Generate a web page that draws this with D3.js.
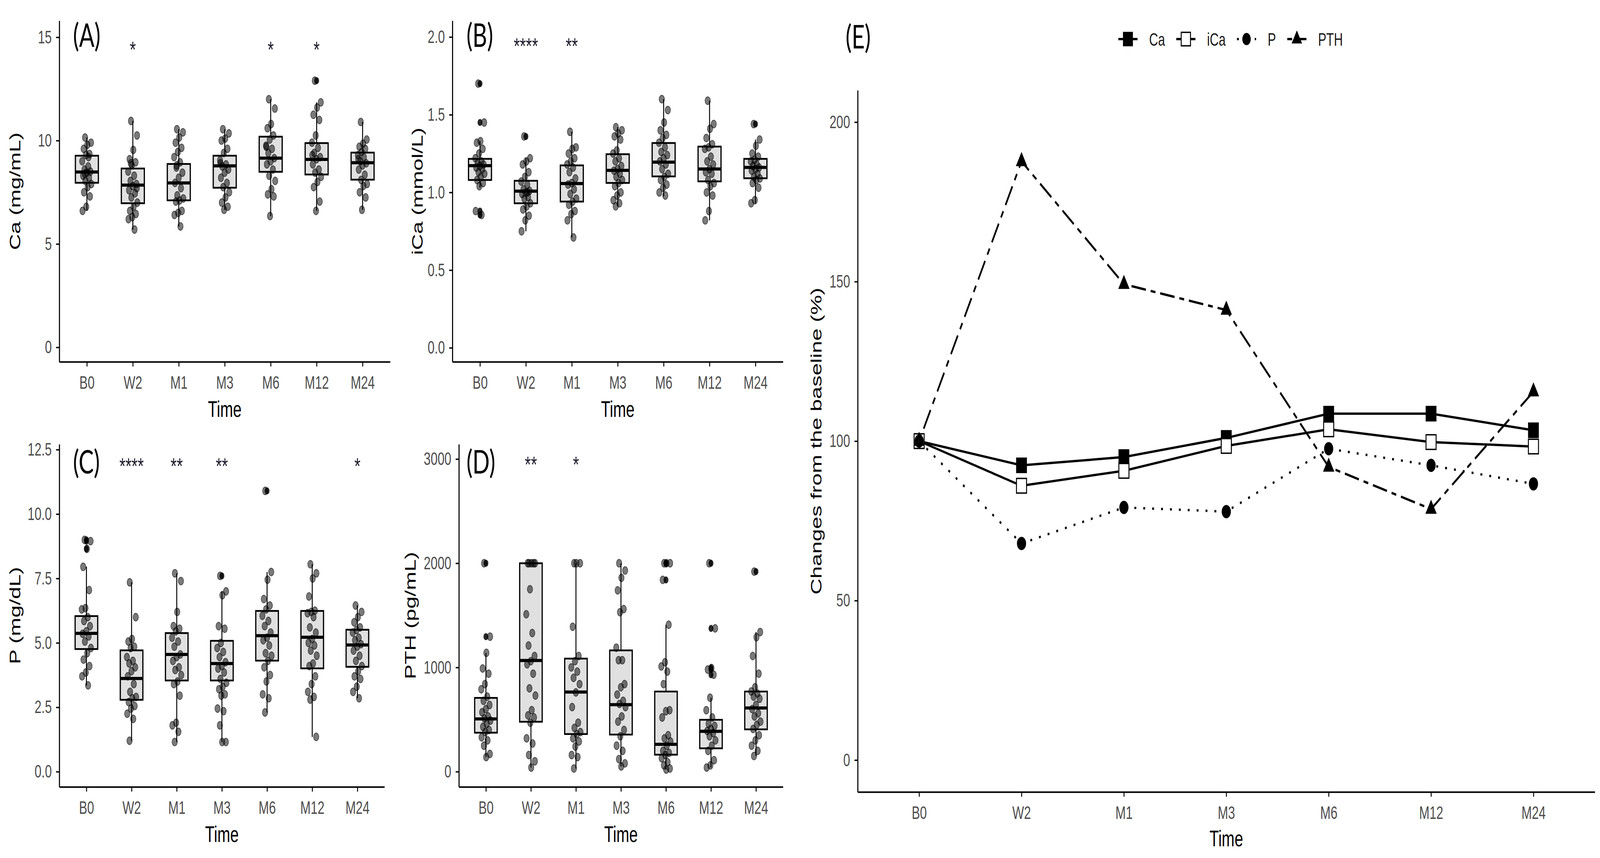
<!DOCTYPE html>
<html><head><meta charset="utf-8">
<script src="https://cdn.jsdelivr.net/npm/d3@7"></script>
<style>html,body{margin:0;padding:0;background:#fff;overflow:hidden} svg{display:block;width:100vw;height:100vh}</style>
</head><body>
<svg id="chart" viewBox="0 0 5934 2196" preserveAspectRatio="none"></svg>
<script>
// ---------------- DATA ----------------
const timePoints = ["B0", "W2", "M1", "M3", "M6", "M12", "M24"];

// Panel A: Ca (mg/mL)
const caPoints = [
  [10.15, 9.9, 9.8, 9.6, 9.35, 9.3, 9.0, 8.75, 8.6, 8.5, 8.45, 8.3, 8.2, 8.05, 7.9, 7.75, 7.5, 7.3, 6.8, 6.6, 9.2, 8.4],
  [10.95, 10.25, 9.55, 9.1, 8.95, 8.8, 8.5, 8.3, 8.05, 7.9, 7.8, 7.6, 7.45, 7.25, 7.0, 6.8, 6.6, 6.45, 6.3, 6.2, 5.7, 8.9, 7.7],
  [10.55, 10.4, 10.15, 9.9, 9.65, 9.45, 9.2, 8.95, 8.7, 8.45, 8.2, 7.95, 7.7, 7.35, 7.2, 7.1, 7.05, 6.6, 6.5, 6.4, 5.85, 8.8],
  [10.55, 10.35, 10.1, 10.0, 9.6, 9.4, 9.05, 8.85, 8.75, 8.6, 8.45, 8.2, 7.95, 7.75, 7.5, 7.25, 7.0, 6.8, 6.65, 8.9],
  [12.0, 11.55, 10.8, 10.6, 10.25, 10.05, 9.75, 9.6, 9.4, 9.15, 9.0, 8.85, 8.6, 8.3, 8.05, 7.65, 7.4, 7.3, 6.35, 9.7],
  [12.9, 11.85, 11.6, 11.25, 11.0, 10.25, 9.9, 9.65, 9.4, 9.2, 9.1, 8.85, 8.6, 8.45, 8.25, 8.0, 7.75, 7.05, 6.6, 9.3],
  [10.9, 10.05, 9.85, 9.7, 9.6, 9.45, 9.3, 9.2, 9.0, 8.9, 8.8, 8.6, 8.35, 8.1, 7.9, 7.8, 7.5, 7.25, 6.65, 9.1]
];
// [lower whisker, Q1, median, Q3, upper whisker]
const caBoxes = [
  [6.6, 7.96, 8.48, 9.27, 10.15],
  [5.7, 6.97, 7.85, 8.65, 10.95],
  [5.85, 7.11, 7.95, 8.87, 10.55],
  [6.65, 7.72, 8.78, 9.27, 10.55],
  [6.35, 8.49, 9.15, 10.19, 12.0],
  [6.6, 8.36, 9.09, 9.88, 11.85],
  [6.65, 8.11, 8.93, 9.42, 10.9]
];
const caStars = ["", "*", "", "", "*", "*", ""];
const caTicks = [0, 5, 10, 15];

// Panel B: iCa (mmol/L)
const icaPoints = [
  [1.70, 1.45, 1.33, 1.32, 1.28, 1.25, 1.22, 1.2, 1.19, 1.18, 1.17, 1.16, 1.15, 1.13, 1.12, 1.10, 1.08, 1.06, 1.04, 0.88, 0.855],
  [1.36, 1.22, 1.2, 1.18, 1.13, 1.1, 1.07, 1.05, 1.02, 1.01, 1.0, 0.99, 0.97, 0.96, 0.93, 0.91, 0.89, 0.85, 0.82, 0.75, 1.0],
  [1.39, 1.29, 1.28, 1.25, 1.22, 1.2, 1.18, 1.16, 1.13, 1.09, 1.06, 1.05, 1.02, 0.99, 0.96, 0.94, 0.92, 0.88, 0.86, 0.82, 0.71],
  [1.42, 1.40, 1.38, 1.36, 1.34, 1.27, 1.25, 1.22, 1.2, 1.17, 1.15, 1.14, 1.12, 1.1, 1.08, 1.06, 1.04, 1.0, 0.98, 0.95, 0.93, 0.91],
  [1.6, 1.53, 1.45, 1.4, 1.37, 1.35, 1.32, 1.29, 1.26, 1.24, 1.22, 1.2, 1.18, 1.15, 1.12, 1.1, 1.08, 1.05, 1.03, 1.0, 0.98],
  [1.59, 1.44, 1.41, 1.35, 1.31, 1.29, 1.28, 1.23, 1.2, 1.18, 1.15, 1.13, 1.12, 1.08, 1.06, 1.04, 1.0, 0.98, 0.88, 0.82],
  [1.44, 1.34, 1.3, 1.25, 1.23, 1.21, 1.2, 1.18, 1.17, 1.16, 1.15, 1.14, 1.12, 1.1, 1.09, 1.08, 1.06, 1.03, 0.95, 0.93]
];
const icaBoxes = [
  [1.03, 1.08, 1.172, 1.216, 1.33],
  [0.75, 0.93, 1.008, 1.075, 1.22],
  [0.71, 0.941, 1.057, 1.174, 1.39],
  [0.91, 1.061, 1.142, 1.246, 1.42],
  [0.974, 1.103, 1.195, 1.318, 1.60],
  [0.82, 1.071, 1.151, 1.295, 1.59],
  [0.93, 1.091, 1.161, 1.216, 1.34]
];
const icaStars = ["", "****", "**", "", "", "", ""];
const icaTicks = [0, 0.5, 1.0, 1.5, 2.0];

// Panel C: P (mg/dL)
const pPoints = [
  [9.0, 8.95, 8.65, 7.95, 7.05, 6.35, 6.3, 6.0, 5.85, 5.65, 5.45, 5.35, 5.25, 5.05, 4.8, 4.6, 4.35, 4.1, 3.85, 3.7, 3.35],
  [7.35, 6.0, 5.15, 5.05, 4.85, 4.8, 4.45, 4.3, 4.2, 4.05, 3.9, 3.7, 3.4, 3.1, 2.9, 2.85, 2.7, 2.55, 2.45, 2.25, 2.05, 1.2],
  [7.7, 7.4, 6.2, 5.65, 5.55, 5.45, 5.2, 5.05, 4.85, 4.55, 4.45, 4.3, 4.05, 3.95, 3.75, 3.5, 3.4, 2.95, 1.9, 1.8, 1.55, 1.15],
  [7.6, 7.0, 6.85, 5.65, 5.55, 5.0, 4.8, 4.65, 4.45, 4.25, 4.1, 4.0, 3.85, 3.6, 3.45, 3.3, 3.2, 3.0, 2.95, 2.45, 2.35, 1.8, 1.15, 1.15],
  [10.9, 7.75, 7.45, 6.7, 6.45, 6.3, 6.05, 5.85, 5.65, 5.4, 5.2, 5.1, 4.9, 4.6, 4.5, 4.3, 4.05, 3.75, 3.5, 3.0, 2.85, 2.3],
  [8.05, 7.7, 7.5, 6.8, 6.25, 6.2, 6.15, 6.0, 5.6, 5.4, 5.15, 5.0, 4.9, 4.7, 4.5, 4.2, 4.1, 3.7, 3.4, 3.1, 2.9, 2.8, 1.35],
  [6.45, 6.2, 6.0, 5.8, 5.6, 5.5, 5.4, 5.2, 5.1, 4.95, 4.85, 4.7, 4.5, 4.3, 4.1, 3.9, 3.7, 3.6, 3.3, 3.1, 2.85]
];
const pBoxes = [
  [3.34, 4.76, 5.37, 6.04, 7.96],
  [1.2, 2.79, 3.62, 4.71, 7.35],
  [1.15, 3.54, 4.55, 5.38, 7.7],
  [1.15, 3.54, 4.2, 5.08, 7.0],
  [2.3, 4.31, 5.28, 6.24, 7.75],
  [1.35, 4.01, 5.22, 6.24, 8.05],
  [2.85, 4.07, 4.92, 5.51, 6.45]
];
const pStars = ["", "****", "**", "**", "", "", "*"];
const pTicks = [0, 2.5, 5.0, 7.5, 10.0, 12.5];

// Panel D: PTH (pg/mL)
const pthPoints = [
  [2000, 1296, 1140, 990, 940, 840, 790, 720, 680, 640, 600, 570, 530, 510, 490, 460, 430, 400, 380, 330, 300, 250, 170, 140],
  [2000, 2000, 2000, 2000, 2000, 1750, 1510, 1330, 1210, 1110, 1060, 1030, 940, 800, 730, 590, 540, 520, 470, 320, 270, 160, 100, 40],
  [2000, 2000, 2000, 1390, 1110, 1060, 1000, 960, 900, 840, 760, 620, 470, 420, 380, 360, 320, 290, 240, 160, 140, 30],
  [2000, 1930, 1860, 1740, 1560, 1530, 1190, 1070, 1070, 840, 810, 740, 680, 650, 620, 530, 480, 400, 340, 250, 200, 120, 80, 50],
  [2000, 2000, 2000, 1840, 1410, 1050, 1010, 960, 840, 590, 580, 520, 350, 320, 290, 250, 200, 180, 160, 130, 90, 60, 30, 20],
  [2000, 1375, 995, 980, 930, 710, 590, 520, 460, 440, 410, 390, 370, 340, 300, 250, 200, 110, 60, 40],
  [1920, 1340, 1290, 1110, 940, 810, 770, 750, 720, 700, 640, 600, 560, 530, 480, 450, 410, 350, 300, 250, 200, 150]
];
const pthBoxes = [
  [140, 374, 506, 708, 1140],
  [40, 479, 1067, 2000, 2000],
  [30, 361, 764, 1085, 2000],
  [50, 356, 643, 1164, 2000],
  [20, 163, 263, 769, 1410],
  [40, 224, 387, 498, 710],
  [150, 406, 611, 769, 1340]
];
const pthStars = ["", "**", "*", "", "", "", ""];
const pthTicks = [0, 1000, 2000, 3000];

// Panel E: changes from baseline (%)
const seriesNames = ["Ca", "iCa", "P", "PTH"];
const pctCa = [100, 92.4, 95.0, 101.0, 108.6, 108.6, 103.4];
const pctICa = [100, 86.0, 90.7, 98.5, 103.7, 99.7, 98.3];
const pctP = [100, 67.9, 79.2, 77.9, 97.6, 92.4, 86.6];
const pctPTH = [100, 187.7, 149.2, 141.1, 91.9, 78.7, 115.5];
const pctTicks = [0, 50, 100, 150, 200];

// ---------------- DRAWING ----------------
const svg = d3.select("#chart");
svg.append("rect").attr("width", 5934).attr("height", 2196).attr("fill", "#fff");

const FONT = "'Liberation Sans', Arial, Helvetica, sans-serif";
const LABEL_FONT = "Lato, 'Open Sans', 'Liberation Sans', sans-serif";
const TICK_COLOR = "#4d4d4d";

function styleAxis(g) {
  g.select(".domain").attr("stroke", "#000").attr("stroke-width", 4);
  g.selectAll(".tick line").attr("stroke", "#000").attr("stroke-width", 3.5);
  g.selectAll(".tick text").attr("fill", TICK_COLOR).attr("font-size", 46).attr("font-family", FONT);
}

function drawAxes(x, y, ticks, tickFmt, x0, y1) {
  const gx = svg.append("g").attr("transform", `translate(0,${y1})`)
    .call(d3.axisBottom(x).tickSize(12).tickSizeOuter(0).tickPadding(24));
  styleAxis(gx);
  const gy = svg.append("g").attr("transform", `translate(${x0},0)`)
    .call(d3.axisLeft(y).tickValues(ticks).tickFormat(tickFmt).tickSize(12).tickSizeOuter(0).tickPadding(16));
  styleAxis(gy);
}

function boxPanel(cfg) {
  const { x0, x1, y0, y1, domain, ticks, tickFmt, points, boxes, stars, starValue,
          label, labelX, labelY, yTitle, yTitleX } = cfg;
  const x = d3.scalePoint().domain(timePoints).range([x0, x1]).padding(0.6);
  const y = d3.scaleLinear().domain(domain).range([y1, y0]);
  const bw = x.step() * 0.5;
  const g = svg.append("g");

  timePoints.forEach((t, i) => {
    const [lo, q1, md, q3, hi] = boxes[i];
    const cx = x(t);
    g.append("line").attr("x1", cx).attr("x2", cx).attr("y1", y(hi)).attr("y2", y(q3))
      .attr("stroke", "#000").attr("stroke-width", 3.5);
    g.append("line").attr("x1", cx).attr("x2", cx).attr("y1", y(q1)).attr("y2", y(lo))
      .attr("stroke", "#000").attr("stroke-width", 3.5);
    g.append("rect").attr("x", cx - bw / 2).attr("width", bw)
      .attr("y", y(q3)).attr("height", Math.max(0, y(q1) - y(q3)))
      .attr("fill", "#e0e0e0").attr("stroke", "#000").attr("stroke-width", 4.5);
    g.append("line").attr("x1", cx - bw / 2).attr("x2", cx + bw / 2).attr("y1", y(md)).attr("y2", y(md))
      .attr("stroke", "#000").attr("stroke-width", 8);
  });

  // boxplot outliers at group centre
  timePoints.forEach((t, i) => {
    const [lo, , , , hi] = boxes[i];
    const out = points[i].filter(v => v < lo - 1e-9 || v > hi + 1e-9);
    g.selectAll(null).data(out).enter().append("circle")
      .attr("cx", x(t)).attr("cy", d => y(d)).attr("r", 9)
      .attr("fill", "#000").attr("fill-opacity", 0.85);
  });

  // jittered points (deterministic golden-ratio spread)
  timePoints.forEach((t, i) => {
    g.selectAll(null).data(points[i]).enter().append("circle")
      .attr("cx", (d, j) => x(t) + (((j * 0.6180339887 + 0.31) % 1) - 0.5) * 36)
      .attr("cy", d => y(d)).attr("r", 10)
      .attr("fill", "#000").attr("fill-opacity", 0.52)
      .attr("stroke", "#000").attr("stroke-opacity", 0.6).attr("stroke-width", 2);
  });

  timePoints.forEach((t, i) => {
    if (!stars[i]) return;
    svg.append("text").attr("x", x(t)).attr("y", y(starValue) + 34)
      .attr("text-anchor", "middle").attr("font-family", FONT).attr("font-size", 58)
      .attr("fill", "#1a1a2a").text(stars[i]);
  });

  drawAxes(x, y, ticks, tickFmt, x0, y1);

  svg.append("text").attr("x", (x0 + x1) / 2).attr("y", y1 + 121).attr("dy", "0.35em")
    .attr("text-anchor", "middle").attr("font-family", FONT).attr("font-size", 57).attr("fill", "#000").text("Time");
  svg.append("text").attr("transform", `translate(${yTitleX},${(y0 + y1) / 2}) rotate(-90)`)
    .attr("dy", "0.35em").attr("text-anchor", "middle").attr("font-family", FONT)
    .attr("font-size", 57).attr("fill", "#000").text(yTitle);

  svg.append("text").attr("x", labelX).attr("y", labelY).attr("font-family", LABEL_FONT)
    .attr("font-size", 84).attr("fill", "#000").text(label);
}

boxPanel({ x0: 220, x1: 1447, y0: 53, y1: 926, domain: [-0.7, 15.8], ticks: caTicks,
  tickFmt: d3.format("d"), points: caPoints, boxes: caBoxes, stars: caStars, starValue: 14.67,
  label: "(A)", labelX: 271, labelY: 120, yTitle: "Ca (mg/mL)", yTitleX: 56 });
boxPanel({ x0: 1678, x1: 2904, y0: 53, y1: 926, domain: [-0.09, 2.105], ticks: icaTicks,
  tickFmt: d3.format(".1f"), points: icaPoints, boxes: icaBoxes, stars: icaStars, starValue: 1.977,
  label: "(B)", labelX: 1730, labelY: 120, yTitle: "iCa (mmol/L)", yTitleX: 1548 });
boxPanel({ x0: 220, x1: 1426, y0: 1137, y1: 2014, domain: [-0.59, 12.71], ticks: pTicks,
  tickFmt: d3.format(".1f"), points: pPoints, boxes: pBoxes, stars: pStars, starValue: 12.08,
  label: "(C)", labelX: 271, labelY: 1212, yTitle: "P (mg/dL)", yTitleX: 56 });
boxPanel({ x0: 1702, x1: 2904, y0: 1137, y1: 2014, domain: [-146, 3142], ticks: pthTicks,
  tickFmt: d3.format("d"), points: pthPoints, boxes: pthBoxes, stars: pthStars, starValue: 3000,
  label: "(D)", labelX: 1730, labelY: 1212, yTitle: "PTH (pg/mL)", yTitleX: 1521 });

// ---------------- PANEL E ----------------
(function () {
  const x0 = 3181, x1 = 5915, y0 = 231, y1 = 2027;
  const x = d3.scalePoint().domain(timePoints).range([x0, x1]).padding(0.6);
  const y = d3.scaleLinear().domain([-10, 210]).range([y1, y0]);
  const seriesVals = [pctCa, pctICa, pctP, pctPTH];
  const dashes = [null, null, "7,26", "18,18,54,18"];
  const symTypes = [d3.symbolSquare, d3.symbolSquare, d3.symbolCircle, d3.symbolTriangle];
  const symSizes = [1600, 1400, 908, 760];
  const fills = ["#000", "#fff", "#000", "#000"];
  const strokes = ["none", "#000", "none", "none"];
  const line = d3.line().x((d, i) => x(timePoints[i])).y(d => y(d));
  const g = svg.append("g");

  seriesVals.forEach((vals, s) => {
    g.append("path").attr("d", line(vals)).attr("fill", "none").attr("stroke", "#000")
      .attr("stroke-width", 6).attr("stroke-dasharray", dashes[s]);
    g.selectAll(null).data(vals).enter().append("path")
      .attr("transform", (d, i) => `translate(${x(timePoints[i])},${y(d)})`)
      .attr("d", d3.symbol().type(symTypes[s]).size(symSizes[s]))
      .attr("fill", fills[s]).attr("stroke", strokes[s]).attr("stroke-width", 3.5);
  });

  drawAxes(x, y, pctTicks, d3.format("d"), x0, y1);

  svg.append("text").attr("x", (x0 + x1) / 2).attr("y", y1 + 119).attr("dy", "0.35em")
    .attr("text-anchor", "middle").attr("font-family", FONT).attr("font-size", 57).text("Time");
  svg.append("text").attr("transform", `translate(3026,${(y0 + y1) / 2}) rotate(-90)`)
    .attr("dy", "0.35em").attr("text-anchor", "middle").attr("font-family", FONT)
    .attr("font-size", 57).text("Changes from the baseline (%)");
  svg.append("text").attr("x", 3136).attr("y", 124).attr("font-family", LABEL_FONT)
    .attr("font-size", 84).text("(E)");

  // legend
  const lg = svg.append("g");
  const keyW = 71, gapKT = 43, gapTK = 42, ly = 100;
  let cx = 0;
  seriesNames.forEach((name, s) => {
    const item = lg.append("g").attr("transform", `translate(${cx},0)`);
    item.append("line").attr("x1", 0).attr("x2", keyW).attr("y1", ly).attr("y2", ly)
      .attr("stroke", "#000").attr("stroke-width", 6).attr("stroke-dasharray", dashes[s]);
    item.append("path").attr("transform", `translate(${keyW / 2},${ly})`)
      .attr("d", d3.symbol().type(symTypes[s]).size(symSizes[s] * 0.85))
      .attr("fill", fills[s]).attr("stroke", strokes[s]).attr("stroke-width", 3.5);
    const t = item.append("text").attr("x", keyW + gapKT).attr("y", ly).attr("dy", "0.36em")
      .attr("font-family", FONT).attr("font-size", 46).attr("fill", "#1a1a1a").text(name);
    const tw = t.node().getComputedTextLength();
    cx += keyW + gapKT + tw + gapTK;
  });
  const total = cx - gapTK;
  lg.attr("transform", `translate(${4564 - total / 2},0)`);
})();
</script>
</body></html>
